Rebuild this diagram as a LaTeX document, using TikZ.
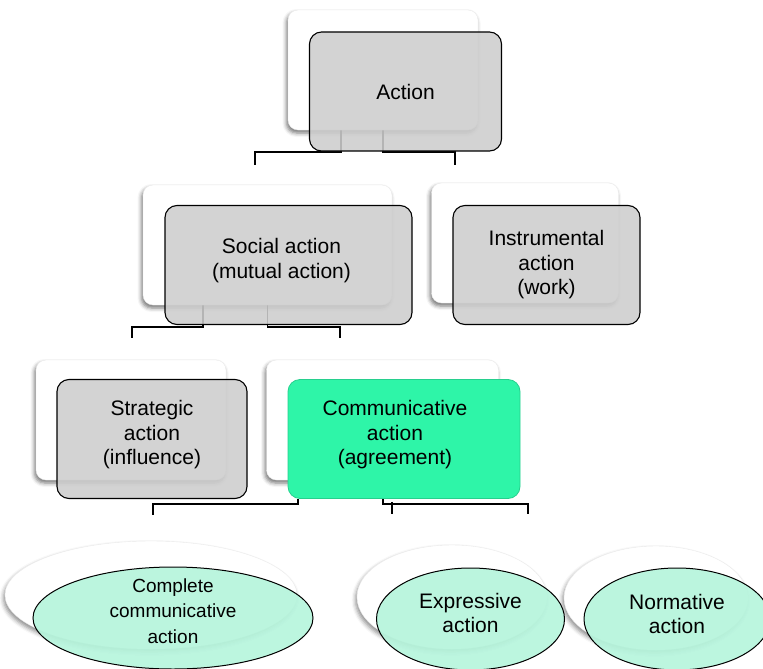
\documentclass[tikz,border=0pt]{standalone}
\usepackage{fontspec}
\setmainfont{Liberation Sans}
\usetikzlibrary{calc, shapes.geometric, shadows.blur, backgrounds}
\definecolor{cardgray}{HTML}{CDCDCD}
\definecolor{agreegreen}{HTML}{2EF5A8}
\definecolor{agreeedge}{HTML}{27CF8E}
\definecolor{leafmint}{HTML}{B6F5DC}

\begin{document}
\begin{tikzpicture}[x=1pt, y=-1pt,
    txt/.style={align=center, font=\fontsize{21}{24.5}\selectfont, text opacity=1},
    plate/.style={rounded corners=10pt, fill=white, draw=black!8,
        minimum width=190pt, minimum height=120pt,
        blur shadow={shadow xshift=-1.5pt, shadow yshift=-3pt,
            shadow blur radius=4pt, shadow opacity=55}},
    card/.style={txt, rounded corners=12pt, fill=cardgray, fill opacity=0.88,
        draw=black, line width=1.1pt,
        minimum width=192pt, minimum height=119pt},
    oval/.style={ellipse, fill=white, draw=black!8, inner sep=0pt,
        minimum width=286pt, minimum height=104pt,
        blur shadow={shadow xshift=-1.5pt, shadow yshift=-3pt,
            shadow blur radius=4pt, shadow opacity=45}},
    leaf/.style={ellipse, fill=leafmint, fill opacity=0.92, draw=black,
        line width=1pt, inner sep=0pt, minimum width=280pt, minimum height=102pt},
    link/.style={line width=1.8pt}]

    \useasboundingbox (0,0) rectangle (763,669);

    % 1. White plates behind the cards
    \node[plate] (actionB) at (383,70) {};
    \node[plate, minimum width=249pt] (socialB) at (267.5,245) {};
    \node[plate, minimum width=187pt] (instrB) at (525,243) {};
    \node[plate] (stratB) at (131,420) {};
    \node[plate, minimum width=232pt] (commB) at (382.5,420) {};

    % 2. The cards themselves
    \node[card] (action) at (405.5,91.5) {Action};
    \node[card, minimum width=247pt,
        label={[txt, xshift=-7pt, text depth=13pt]center:Social action\\(mutual action)}]
        (social) at (288.5,265) {};
    \node[card, minimum width=187pt] (instr) at (546.5,265) {Instrumental\\action\\(work)};
    \node[card, minimum width=190pt, text depth=13pt] (strat) at (152,439) {Strategic\\action\\(influence)};
    \node[card, minimum width=232pt, fill=agreegreen, fill opacity=1,
        draw=agreeedge, line width=0.8pt,
        label={[txt, xshift=-9pt, text depth=13pt]center:Communicative\\action\\(agreement)}]
        (comm) at (404,439) {};

    % 3. Oval plates and the three kinds of communicative action
    \node[oval, minimum width=292pt, minimum height=108pt] (completeB) at (151,595) {};
    \node[oval, minimum width=190pt] (exprB) at (452,597) {};
    \node[oval, minimum width=184pt] (normB) at (656,598) {};

    \node[leaf, label={[txt, font=\fontsize{19}{25.5}\selectfont, yshift=7pt]center:Complete\\communicative\\action}]
        (complete) at (173,618) {};
    \node[leaf, minimum width=188pt, label={[txt, yshift=6pt]center:Expressive\\action}]
        (expr) at (470.5,619) {};
    \node[leaf, minimum width=186pt, label={[txt, yshift=5pt]center:Normative\\action}]
        (norm) at (677,619) {};

    % 4. Connectors, kept under the plates
    \begin{scope}[on background layer]
        \coordinate (socialTip) at (255,165);
        \coordinate (instrTip) at (455,165);
        \coordinate (stratTip) at (132,338);
        \coordinate (commTip) at (340,338);
        \coordinate (completeTip) at (153,515);
        \coordinate (exprTip) at (392,514);
        \coordinate (normTip) at (528,514);

        \draw[link] ($(actionB.south)+(-42,0)$) -- ++(0,22) -| (socialTip);
        \draw[link] (actionB.south) -- ++(0,22) -| (instrTip);

        \draw[link] ($(socialB.south)+(-64.5,0)$) -- ++(0,22) -| (stratTip);
        \draw[link] (socialB.south) -- ++(0,22) -| (commTip);

        \draw[link] ($(comm.south)+(-106,0)$) -- ++(0,5) -| (completeTip);
        \draw[link] ($(comm.south)+(-21,0)$) -- ++(0,5) -| (normTip);
        \draw[link] ($(comm.south)+(-12,3)$) -- (exprTip);
    \end{scope}
\end{tikzpicture}
\end{document}
